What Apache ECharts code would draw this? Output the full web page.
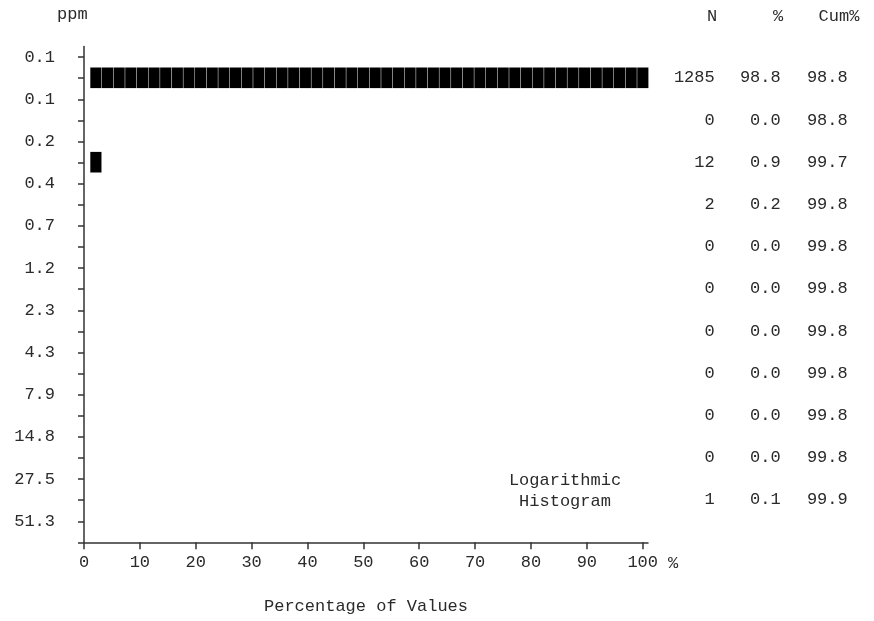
<!DOCTYPE html>
<html>
<head>
<meta charset="utf-8">
<script src="https://cdn.jsdelivr.net/npm/echarts@6/dist/echarts.min.js"></script>
<style>html,body{margin:0;padding:0;background:#fff}#c{width:874px;height:621px}</style>
</head>
<body>
<div id="c"></div>
<script>
// ---- data ----
var yLabels = ['0.1','0.1','0.2','0.4','0.7','1.2','2.3','4.3','7.9','14.8','27.5','51.3'];
var binIdx = ['0','1','2','3','4','5','6','7','8','9','10'];
var nVals = [1285, 0, 12, 2, 0, 0, 0, 0, 0, 0, 1];
var pctVals = ['98.8','0.0','0.9','0.2','0.0','0.0','0.0','0.0','0.0','0.0','0.1'];
var cumVals = ['98.8','98.8','99.7','99.8','99.8','99.8','99.8','99.8','99.8','99.8','99.9'];
var barLen = [100, 0, 2, 0, 0, 0, 0, 0, 0, 0, 0]; // drawn length in % (2% blocks)
var xTicks = [0,10,20,30,40,50,60,70,80,90,100];

var FONT = "'Liberation Mono','Courier New',monospace";
var FS = 17;
var TXT = '#2a2a2a';
var AX = '#333';

var chart = echarts.init(document.getElementById('c'), null, {renderer:'canvas'});

var binPx = 42.2;
var yTickVals = [];
for (var i = 0; i <= 23; i++) yTickVals.push(i/2);
var yLabelVals = yLabels.map(function(_, i){ return i; });

var barGridLeft = 90, barGridW = 558.7;
var blockW = barGridW / 50;

function rightAxis(vals, margin) {
  return {
    type: 'category', gridIndex: 1, data: binIdx, inverse: true, position: 'right',
    axisLine: {show:false}, axisTick: {show:false}, splitLine:{show:false},
    axisLabel: {
      margin: margin, align: 'right', fontFamily: FONT, fontSize: FS, color: TXT,
      formatter: function(v, idx){ return String(vals[idx]); }
    }
  };
}

chart.setOption({
  animation: false,
  backgroundColor: '#fff',
  grid: [
    {left: 84, top: 46.5, width: 564, height: 11.75*binPx, containLabel: false},
    {left: barGridLeft, top: 56.7, width: barGridW, height: 11*binPx, containLabel: false}
  ],
  xAxis: [
    {
      type: 'value', gridIndex: 0, min: 0, max: 564/5.587, position: 'bottom',
      axisLine: {show:true, onZero: false, lineStyle:{color:AX, width:1.5}},
      axisTick: {show:true, customValues: xTicks, length: 7, inside: false, lineStyle:{color:AX, width:1.5}},
      axisLabel: {customValues: xTicks, fontFamily: FONT, fontSize: FS, color: TXT, margin: 12},
      splitLine: {show:false},
      name: 'Percentage of Values', nameLocation: 'middle', nameGap: 56,
      nameTextStyle: {fontFamily: FONT, fontSize: FS, color: TXT}
    },
    {type: 'value', gridIndex: 1, min: 0, max: 100, show: false}
  ],
  yAxis: [
    {
      type: 'value', gridIndex: 0, inverse: true, min: -0.25, max: 11.5, position: 'left',
      axisLine: {show:true, onZero: false, lineStyle:{color:AX, width:1.5}},
      axisTick: {show:true, customValues: yTickVals, length: 6, lineStyle:{color:AX, width:1.5}},
      axisLabel: {customValues: yLabelVals, fontFamily: FONT, fontSize: FS, color: TXT, margin: 29,
        formatter: function(v){ return yLabels[Math.round(v)]; }},
      splitLine: {show:false}
    },
    {type: 'category', gridIndex: 1, data: binIdx, inverse: true, show: false},
    rightAxis(nVals, 66),
    rightAxis(pctVals, 132),
    rightAxis(cumVals, 199)
  ],
  series: [{
    type: 'pictorialBar', xAxisIndex: 1, yAxisIndex: 1,
    data: barLen,
    symbol: 'rect', symbolRepeat: true, symbolMargin: 0, symbolClip: false,
    symbolSize: [blockW, 20.6],
    itemStyle: {color: '#000', borderColor: '#999', borderWidth: 0.8},
    silent: true
  }],
  graphic: [
    {type:'text', left: 57, top: 6, style:{text:'ppm', font: FS+'px '+FONT, fill: TXT}},
    {type:'text', x: 712, y: 16, style:{text:'N', font: FS+'px '+FONT, fill: TXT, align:'center', verticalAlign:'middle'}},
    {type:'text', x: 778, y: 16, style:{text:'%', font: FS+'px '+FONT, fill: TXT, align:'center', verticalAlign:'middle'}},
    {type:'text', x: 839, y: 16, style:{text:'Cum%', font: FS+'px '+FONT, fill: TXT, align:'center', verticalAlign:'middle'}},
    {type:'text', x: 673, y: 563, style:{text:'%', font: FS+'px '+FONT, fill: TXT, align:'center', verticalAlign:'middle'}},
    {type:'text', x: 565, y: 480, style:{text:'Logarithmic', font: FS+'px '+FONT, fill: TXT, align:'center', verticalAlign:'middle'}},
    {type:'text', x: 565, y: 501, style:{text:'Histogram', font: FS+'px '+FONT, fill: TXT, align:'center', verticalAlign:'middle'}}
  ]
});
</script>
</body>
</html>
